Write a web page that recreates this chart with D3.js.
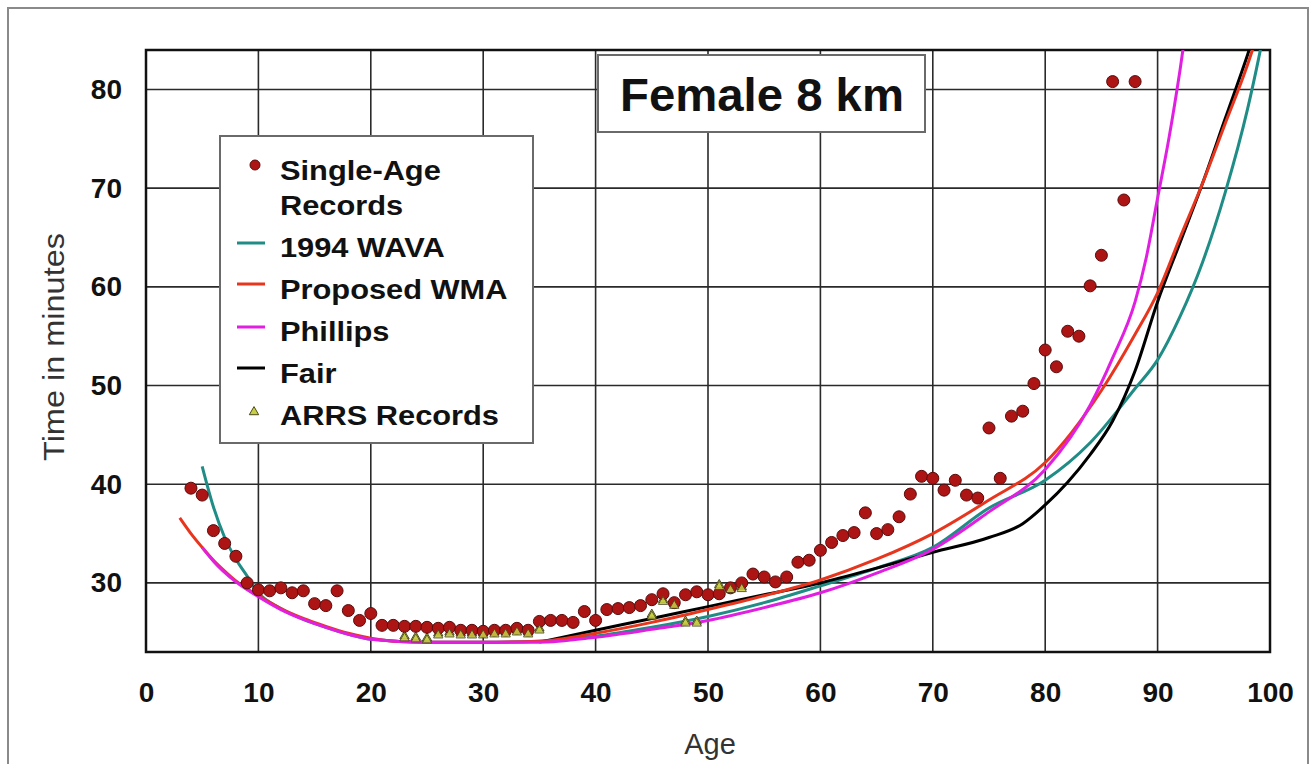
<!DOCTYPE html>
<html><head><meta charset="utf-8">
<script src="https://cdn.jsdelivr.net/npm/d3@7"></script>
<style>
body{margin:0;background:#fff;}
svg{display:block;}
text{font-family:"Liberation Sans",Arial,sans-serif;}
</style>
</head><body>
<svg id="c" width="1315" height="764"></svg>
<script>
// ---- data ----
const xTicks = [0,10,20,30,40,50,60,70,80,90,100];
const yTicks = [30,40,50,60,70,80];

const singleAgeAges = [4,5,6,7,8,9,10,11,12,13,14,15,16,17,18,19,20,21,22,23,24,25,26,27,28,29,30,31,32,33,34,35,36,37,38,39,40,41,42,43,44,45,46,47,48,49,50,51,52,53,54,55,56,57,58,59,60,61,62,63,64,65,66,67,68,69,70,71,72,73,74,75,76,77,78,79,80,81,82,83,84,85,86,87,88];
const singleAgeTimes = [39.6,38.9,35.3,34.0,32.7,30.0,29.3,29.2,29.5,29.0,29.2,27.9,27.7,29.2,27.2,26.2,26.9,25.7,25.7,25.6,25.6,25.5,25.4,25.5,25.2,25.2,25.1,25.2,25.2,25.4,25.2,26.1,26.2,26.2,26.0,27.1,26.2,27.3,27.4,27.5,27.7,28.3,28.9,28.0,28.8,29.1,28.8,28.9,29.5,30.0,30.9,30.6,30.1,30.6,32.1,32.3,33.3,34.1,34.8,35.1,37.1,35.0,35.4,36.7,39.0,40.8,40.6,39.4,40.4,38.9,38.6,45.7,40.6,46.9,47.4,50.2,53.6,51.9,55.5,55.0,60.1,63.2,80.8,68.8,80.8];

const arrsAges = [23,24,25,26,27,28,29,30,31,32,33,34,35,45,46,47,48,49,51,52,53];
const arrsTimes = [24.6,24.5,24.4,24.9,25.0,24.9,24.9,24.9,25.0,25.0,25.2,25.0,25.4,26.8,28.3,27.9,26.1,26.1,29.8,29.5,29.6];

const wavaAges = [5,6,7,8,9,10,12,14,16,18,20,25,30,35,40,45,50,55,60,65,70,75,80,84,88,90,92,94,96,98,99,100];
const wavaTimes = [41.8,37.7,34.6,32.4,30.7,29.0,27.4,26.3,25.5,24.8,24.3,24.0,24.0,24.1,24.6,25.5,26.6,28.0,29.7,31.5,33.6,37.6,40.4,44.2,49.7,52.6,57.0,62.5,69.5,78.0,83.2,89];

const wmaAges = [3,4,5,6,7,8,9,10,12,14,16,18,20,22,25,30,35,40,45,50,55,60,65,70,75,80,85,88,90,92,94,96,98,99];
const wmaTimes = [36.6,35.0,33.6,32.3,31.2,30.2,29.4,28.7,27.4,26.4,25.6,24.9,24.4,24.1,24.0,24.0,24.1,24.9,26.0,27.3,28.7,30.3,32.4,35.0,38.4,42.2,49.5,55.2,59.4,65.0,70.5,76.5,82.5,86];

const phillipsAges = [5,6,8,10,12,14,16,18,20,25,30,35,40,45,50,55,60,65,70,75,80,84,86,88,89,90,91,92,93];
const phillipsTimes = [33.6,32.2,30.1,28.6,27.3,26.3,25.5,24.8,24.3,24.0,24.0,24.0,24.5,25.3,26.2,27.5,29.0,31.0,33.4,37.2,41.5,48.0,52.8,58.5,63.0,69.0,75.0,82.0,90];

const fairAges = [35,40,45,50,55,60,65,70,75,78,80,82,84,86,88,90,92,94,96,98,99];
const fairTimes = [24.0,25.2,26.4,27.6,28.8,30.0,31.5,33.1,34.6,36.0,37.9,40.2,43.0,46.4,51.5,58.5,64.5,70.5,77.0,83.5,87];

const legendLabels = [["Single-Age","Records"],["1994 WAVA"],["Proposed WMA"],["Phillips"],["Fair"],["ARRS Records"]];
const titleText = "Female 8 km";
const xTitle = "Age";
const yTitle = "Time in minutes";

// ---- drawing ----
const svg = d3.select("#c");
const L = 146, R = 1270, T = 50, B = 652;
const x = d3.scaleLinear().domain([0,100]).range([L,R]);
const y = d3.scaleLinear().domain([23,84]).range([B,T]);

// outer frame
svg.append("rect").attr("x",8).attr("y",8).attr("width",1300).attr("height",800)
  .attr("fill","#fff").attr("stroke","#8a8a8a").attr("stroke-width",2);

// clip
svg.append("clipPath").attr("id","pc").append("rect")
  .attr("x",L).attr("y",T).attr("width",R-L).attr("height",B-T);

// grid
const grid = svg.append("g");
grid.selectAll("line.v").data(xTicks.slice(1,-1)).join("line")
  .attr("x1",d=>x(d)).attr("x2",d=>x(d)).attr("y1",T).attr("y2",B)
  .attr("stroke","#2a2a2a").attr("stroke-width",1.6);
grid.selectAll("line.h").data(yTicks).join("line")
  .attr("y1",d=>y(d)).attr("y2",d=>y(d)).attr("x1",L).attr("x2",R)
  .attr("stroke","#2a2a2a").attr("stroke-width",1.6);

// axes (labels)
const xAxis = svg.append("g").attr("transform",`translate(0,${B})`)
  .call(d3.axisBottom(x).tickValues(xTicks).tickSize(0).tickPadding(30).tickFormat(d3.format("d")));
xAxis.select(".domain").remove();
xAxis.selectAll("text").attr("font-size",28).attr("font-weight","bold").attr("fill","#111")
  .attr("font-family","Liberation Sans, Arial, sans-serif");

const yAxis = svg.append("g").attr("transform",`translate(${L},0)`)
  .call(d3.axisLeft(y).tickValues(yTicks).tickSize(0).tickPadding(24).tickFormat(d3.format("d")));
yAxis.select(".domain").remove();
yAxis.selectAll("text").attr("font-size",28).attr("font-weight","bold").attr("fill","#111")
  .attr("font-family","Liberation Sans, Arial, sans-serif");

// plot border
svg.append("rect").attr("x",L).attr("y",T).attr("width",R-L).attr("height",B-T)
  .attr("fill","none").attr("stroke","#111").attr("stroke-width",2.5);

// axis titles
svg.append("text").attr("x",710).attr("y",754).attr("text-anchor","middle")
  .attr("font-size",29).attr("fill","#333").text(xTitle);
svg.append("text").attr("transform","translate(64,347) rotate(-90)").attr("text-anchor","middle")
  .attr("font-size",30).attr("textLength",228).attr("lengthAdjust","spacingAndGlyphs")
  .attr("fill","#333").text(yTitle);

// curves
const plot = svg.append("g").attr("clip-path","url(#pc)");
const line = d3.line().x(d=>x(d[0])).y(d=>y(d[1])).curve(d3.curveMonotoneX);
const curves = [
  {ages:wavaAges, vals:wavaTimes, color:"#1f8c85"},
  {ages:fairAges, vals:fairTimes, color:"#000000"},
  {ages:wmaAges, vals:wmaTimes, color:"#e8361e"},
  {ages:phillipsAges, vals:phillipsTimes, color:"#e11fe1"}
];
curves.forEach(c=>{
  plot.append("path").datum(d3.zip(c.ages,c.vals)).attr("d",line)
    .attr("fill","none").attr("stroke",c.color).attr("stroke-width",3);
});

// ARRS triangles
const tri = d3.symbol().type(d3.symbolTriangle).size(38);
plot.selectAll("path.arrs").data(d3.zip(arrsAges,arrsTimes)).join("path")
  .attr("d",tri).attr("transform",d=>`translate(${x(d[0])},${y(d[1])})`)
  .attr("fill","#c9cf45").attr("stroke","#4a4a20").attr("stroke-width",1);

// single-age dots
plot.selectAll("circle.sa").data(d3.zip(singleAgeAges,singleAgeTimes)).join("circle")
  .attr("cx",d=>x(d[0])).attr("cy",d=>y(d[1])).attr("r",6)
  .attr("fill","#ad1414").attr("stroke","#5a0c0c").attr("stroke-width",1);

// re-draw ARRS on top where they sit below dots slightly (keep visible)
plot.selectAll("path.arrs2").data(d3.zip(arrsAges,arrsTimes)).join("path")
  .attr("d",tri).attr("transform",d=>`translate(${x(d[0])},${y(d[1])+2})`)
  .attr("fill","#c9cf45").attr("stroke","#4a4a20").attr("stroke-width",1).attr("opacity",0.85);

// title box
svg.append("rect").attr("x",598).attr("y",55).attr("width",327).attr("height",77)
  .attr("fill","#fff").attr("stroke","#6a6a6a").attr("stroke-width",2);
svg.append("text").attr("x",762).attr("y",111).attr("text-anchor","middle")
  .attr("font-size",46).attr("font-weight","bold").attr("textLength",284).attr("lengthAdjust","spacingAndGlyphs")
  .attr("fill","#111").text(titleText);

// legend
const lg = svg.append("g");
lg.append("rect").attr("x",220).attr("y",136).attr("width",313).attr("height",307)
  .attr("fill","#fff").attr("stroke","#6a6a6a").attr("stroke-width",2);
const baselines = [[180,215],[257],[299],[341],[383],[425]];
const markerY = [165,243,284,327,368,412];
const legendColors = [null,"#1f8c85","#e8361e","#e11fe1","#000000",null];
legendLabels.forEach((lines,i)=>{
  lines.forEach((t,j)=>{
    lg.append("text").attr("transform",`translate(280,${baselines[i][j]}) scale(1.1,1)`)
      .attr("font-size",28).attr("font-weight","bold").attr("fill","#111").text(t);
  });
  if(i===0){
    lg.append("circle").attr("cx",255).attr("cy",markerY[i]).attr("r",5)
      .attr("fill","#ad1414").attr("stroke","#5a0c0c");
  } else if(i===5){
    lg.append("path").attr("d",tri).attr("transform",`translate(254,${markerY[i]})`)
      .attr("fill","#c9cf45").attr("stroke","#4a4a20");
  } else {
    lg.append("line").attr("x1",237).attr("x2",265).attr("y1",markerY[i]).attr("y2",markerY[i])
      .attr("stroke",legendColors[i]).attr("stroke-width",3);
  }
});
</script>
</body></html>
